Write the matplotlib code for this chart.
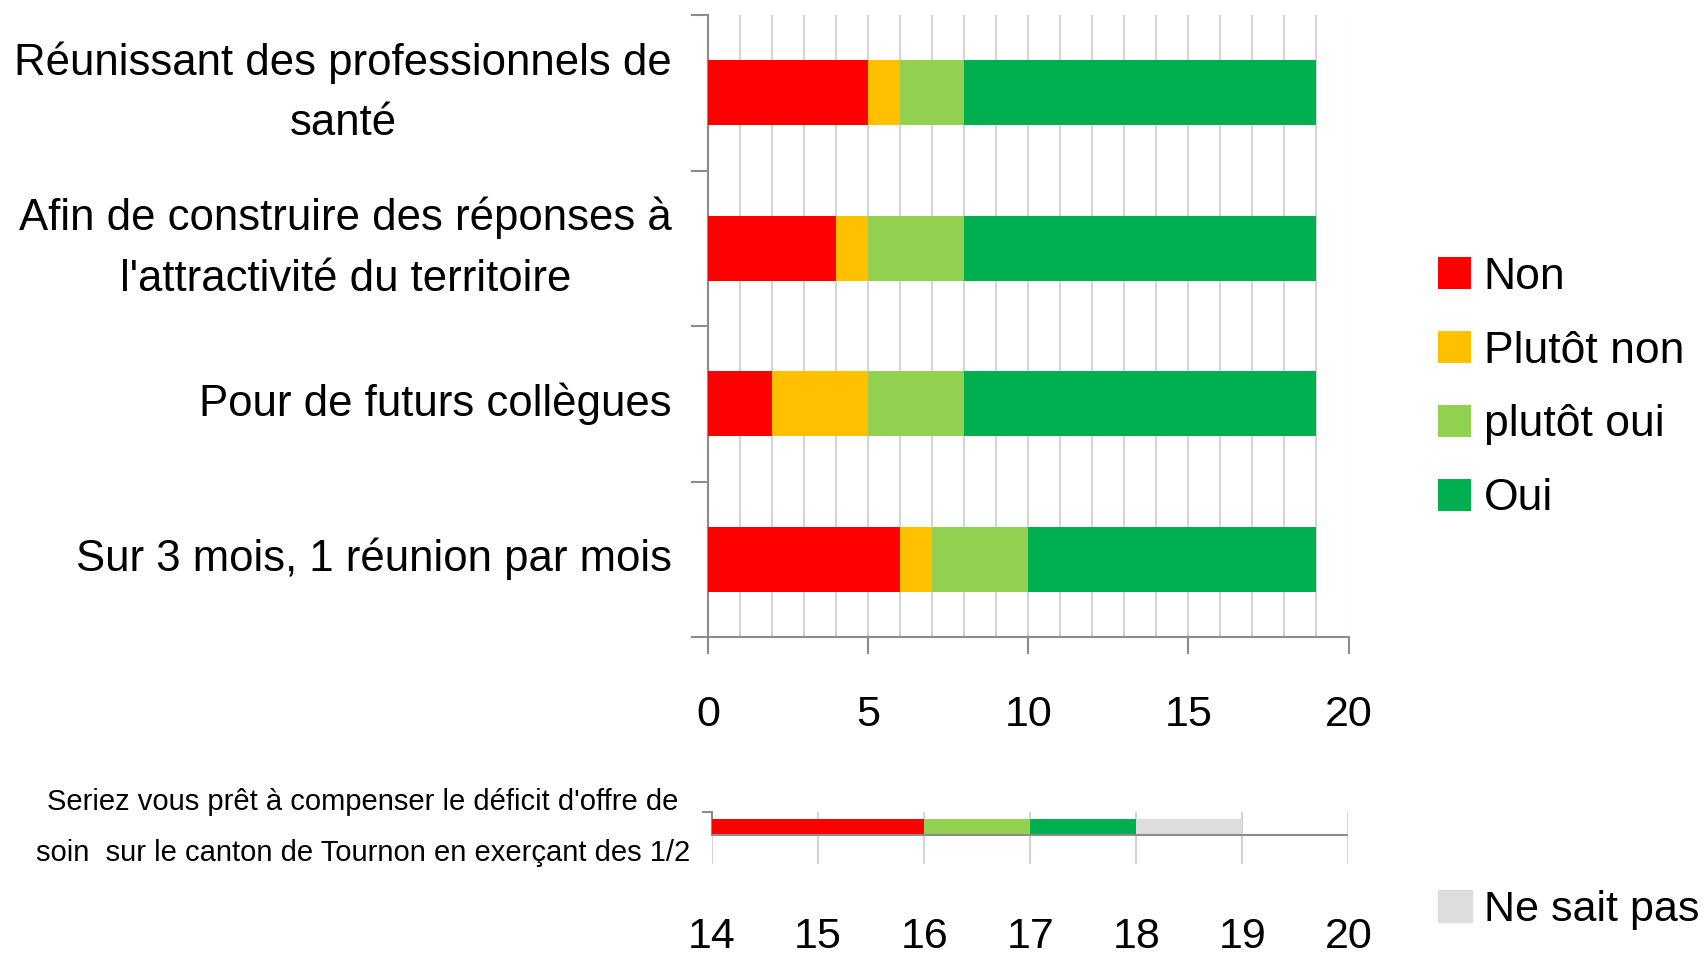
import matplotlib
matplotlib.use("Agg")
import matplotlib.pyplot as plt
from matplotlib.patches import Patch
import numpy as np

plt.rcParams['font.family'] = ['Liberation Sans', 'DejaVu Sans']

categories = ["Réunissant des professionnels de\nsanté",
              "Afin de construire des réponses à\nl'attractivité du territoire",
              "Pour de futurs collègues",
              "Sur 3 mois, 1 réunion par mois"]
series_names = ["Non", "Plutôt non", "plutôt oui", "Oui"]
non = [5, 4, 2, 6]
plutot_non = [1, 1, 3, 1]
plutot_oui = [2, 3, 3, 3]
oui = [11, 11, 11, 9]

bottom_category = "Seriez vous prêt à compenser le déficit d'offre de\nsoin  sur le canton de Tournon en exerçant des 1/2"
bottom_names = ["Non", "Plutôt non", "plutôt oui", "Oui", "Ne sait pas"]
bottom_values = [16, 0, 1, 1, 1]

colors = ["#FF0000", "#FFC000", "#92D050", "#00B050", "#DDDDDD"]
top_ticks = [0, 5, 10, 15, 20]
bottom_ticks = [14, 15, 16, 17, 18, 19, 20]

W, H = 1708, 958
fig = plt.figure(figsize=(W / 100, H / 100), dpi=100)

spine_col = "#8C8C8C"
grid_col = "#D4D4D4"

# ---------- top chart ----------
ax = fig.add_axes([708 / W, 1 - 637 / H, (1348.5 - 708) / W, (637 - 15) / H])
y = np.arange(len(categories))
left = np.zeros(len(categories))
for vals, c, name in zip([non, plutot_non, plutot_oui, oui], colors, series_names):
    ax.barh(y, vals, left=left, height=0.42, color=c, label=name, zorder=3)
    left += np.array(vals)

ax.set_xlim(top_ticks[0], top_ticks[-1])
ax.set_ylim(len(categories) - 0.5, -0.5)
ax.set_xticks(top_ticks)
ax.set_xticks(np.arange(top_ticks[0], top_ticks[-1] + 1, 1), minor=True)
ax.set_yticks(y)
ax.set_yticklabels(categories, fontsize=31.5, ha='right', va='center',
                   multialignment='center', linespacing=1.62)
ax.set_yticks(np.arange(-0.5, len(categories), 1), minor=True)
ax.grid(which='both', axis='x', color=grid_col, linewidth=1.5, zorder=0)
ax.tick_params(axis='x', which='major', length=12, width=1.5, color=spine_col, labelsize=31, pad=30)
ax.tick_params(axis='x', which='minor', length=0)
ax.tick_params(axis='y', which='major', length=0, pad=26)
ax.tick_params(axis='y', which='minor', length=12, width=1.5, color=spine_col)
for s in ['top', 'right']:
    ax.spines[s].set_visible(False)
for s in ['left', 'bottom']:
    ax.spines[s].set_color(spine_col)
    ax.spines[s].set_linewidth(1.5)

leg = ax.legend(loc='center left', bbox_to_anchor=(1438 / W, 1 - 388 / H),
                bbox_transform=fig.transFigure, frameon=False, fontsize=32,
                handlelength=0.75, handleheight=0.75, handletextpad=0.28,
                labelspacing=0.74, borderpad=0, borderaxespad=0)

# ---------- bottom chart ----------
ax2 = fig.add_axes([712 / W, 1 - 864 / H, (1348.5 - 712) / W, (864 - 811.5) / H])
left2 = 0.0
for v, c, name in zip(bottom_values, colors, bottom_names):
    ax2.barh([0], [v], left=left2, height=1.0, color=c, label=name, zorder=3)
    left2 += v
ax2.set_xlim(bottom_ticks[0], bottom_ticks[-1])
ax2.set_ylim(-2.25, 0.97)
ax2.set_xticks(bottom_ticks)
ax2.grid(which='major', axis='x', color=grid_col, linewidth=1.5, zorder=0)
ax2.axhline(-0.5, color=spine_col, linewidth=1.5, zorder=4)
ax2.set_yticks([0])
ax2.set_yticklabels([bottom_category], fontsize=21, ha='right', va='center',
                    multialignment='center', linespacing=2.05)
ax2.set_yticks([0.97], minor=True)
ax2.tick_params(axis='y', which='major', length=0, pad=16)
ax2.tick_params(axis='y', which='minor', length=7, width=1.5, color=spine_col)
ax2.tick_params(axis='x', which='major', length=0, labelsize=31, pad=38)
for s in ['top', 'right', 'bottom']:
    ax2.spines[s].set_visible(False)
ax2.spines['left'].set_color(spine_col)
ax2.spines['left'].set_linewidth(1.5)
ax2.spines['left'].set_bounds(-0.5, 0.97)

fig.legend(handles=[Patch(color=colors[4], label=bottom_names[4])],
           loc='center left', bbox_to_anchor=(1438 / W, 1 - 910 / H),
           frameon=False, fontsize=31, handlelength=0.78, handleheight=0.78,
           handletextpad=0.28, borderpad=0, borderaxespad=0)

fig.savefig("out.png", dpi=100)
